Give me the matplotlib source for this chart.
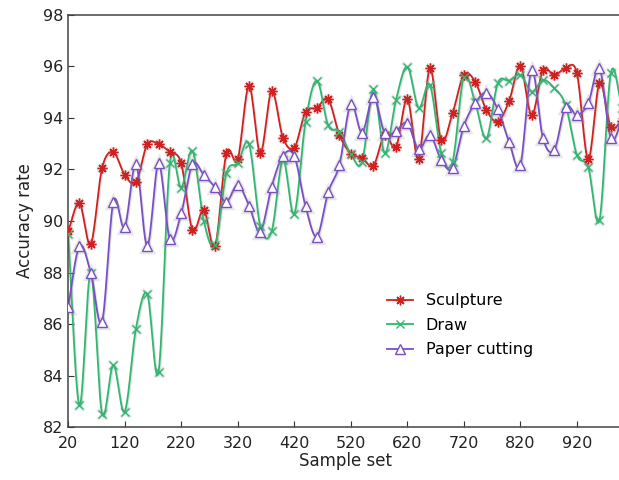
import numpy as np
import matplotlib
matplotlib.use("Agg")
import matplotlib.pyplot as plt
import matplotlib.patheffects as pe

# sample positions (every 20 samples)
samples = list(range(20, 1001, 20))

sculpture = [89.6, 90.7, 89.1, 92.05, 92.67, 91.8, 91.5, 92.98, 92.98, 92.68,
             92.24, 89.65, 90.43, 89.03, 92.63, 92.4, 95.24, 92.63, 95.04, 93.24,
             92.84, 94.23, 94.39, 94.73, 93.34, 92.62, 92.45, 92.15, 93.34, 92.87,
             94.73, 92.42, 95.92, 93.13, 94.18, 95.67, 95.41, 94.31, 93.86, 94.65,
             96.02, 94.1, 95.87, 95.65, 95.93, 95.74, 92.4, 95.35, 93.66, 93.9]

draw = [89.5, 82.85, 88.0, 82.53, 84.41, 82.6, 85.83, 87.17, 84.15, 92.24,
        91.3, 92.72, 90.0, 89.07, 91.85, 92.24, 92.99, 89.8, 89.6, 92.37,
        90.28, 93.86, 95.45, 93.71, 93.47, 92.6, 92.3, 95.11, 92.64, 94.7,
        95.99, 94.39, 95.28, 92.65, 92.3, 95.6, 94.6, 93.21, 95.35, 95.45,
        95.67, 95.02, 95.48, 95.15, 94.5, 92.56, 92.1, 90.04, 95.74, 94.4]

paper_cutting = [86.67, 89.03, 88.0, 86.09, 90.75, 89.76, 92.21, 89.03, 92.24, 89.29,
                 90.3, 92.21, 91.79, 91.31, 90.75, 91.4, 90.6, 89.59, 91.34, 92.53,
                 92.53, 90.57, 89.4, 91.12, 92.19, 94.54, 93.43, 94.83, 93.42, 93.5,
                 93.8, 92.78, 93.34, 92.37, 92.05, 93.69, 94.57, 94.98, 94.33, 93.08,
                 92.17, 95.86, 93.21, 92.76, 94.44, 94.12, 94.57, 95.93, 93.21, 93.9]

x_ticks = list(range(20, 921, 100))
y_ticks = list(range(82, 99, 2))


def smooth(x, y, n=16):
    # catmull-rom curve through the points, just for drawing the line
    x = np.asarray(x, float)
    y = np.asarray(y, float)
    px = np.concatenate([[2 * x[0] - x[1]], x, [2 * x[-1] - x[-2]]])
    py = np.concatenate([[2 * y[0] - y[1]], y, [2 * y[-1] - y[-2]]])
    xs, ys = [], []
    t = np.linspace(0, 1, n, endpoint=False)
    for i in range(1, len(px) - 2):
        for p, out in ((px, xs), (py, ys)):
            p0, p1, p2, p3 = p[i - 1], p[i], p[i + 1], p[i + 2]
            out.extend(0.5 * (2 * p1 + (-p0 + p2) * t
                              + (2 * p0 - 5 * p1 + 4 * p2 - p3) * t ** 2
                              + (-p0 + 3 * p1 - 3 * p2 + p3) * t ** 3))
    xs.append(x[-1])
    ys.append(y[-1])
    return np.array(xs), np.array(ys)


plt.rcParams['font.family'] = ['DejaVu Sans']
fig = plt.figure(figsize=(6.19, 4.8), dpi=100)
ax = fig.add_axes([0.11, 0.11, 0.895, 0.859])

shadow = [pe.SimpleLineShadow(offset=(0.8, -0.8), shadow_color='gray', alpha=0.25), pe.Normal()]

series = [
    (sculpture, 'Sculpture', '#d02020', (8, 2, 0), 7),
    (draw, 'Draw', '#2eb872', 'x', 6),
    (paper_cutting, 'Paper cutting', '#7a4fc4', '^', 7.5),
]

for vals, name, col, mk, ms in series:
    sx, sy = smooth(samples, vals)
    ax.plot(sx, sy, color=col, lw=1.3, path_effects=shadow, zorder=2)
    mfc = 'white' if mk == '^' else col
    # soft grey halo behind the markers
    ax.plot(samples, vals, ls='none', marker=mk, ms=ms + 1, mec='#888888',
            mfc='none', mew=2.5, alpha=0.2, zorder=2.5)
    ax.plot(samples, vals, ls='none', marker=mk, ms=ms,
            mec=col, mfc=mfc, mew=1.0, zorder=3)
    ax.plot([], [], color=col, lw=1.3, marker=mk, ms=ms,
            mec=col, mfc=mfc, mew=1.0, label=name)

ax.set_xlim(20, 1000)
ax.set_ylim(82, 98)
ax.set_xticks(x_ticks)
ax.set_yticks(y_ticks)
ax.tick_params(direction='in', length=4, labelsize=11.5, colors='#333333',
               labelcolor='#222222')
ax.tick_params(axis='x', pad=6)
for s in ax.spines.values():
    s.set_color('#444444')
    s.set_linewidth(1.1)

ax.set_xlabel('Sample set', fontsize=12, color='#222222', labelpad=1)
ax.set_ylabel('Accuracy rate', fontsize=12, color='#222222', labelpad=6)

ax.legend(loc='upper left', bbox_to_anchor=(0.55, 0.36), frameon=False,
          fontsize=11.5, handlelength=1.6, labelspacing=0.6)

fig.savefig('out.png', dpi=100)
